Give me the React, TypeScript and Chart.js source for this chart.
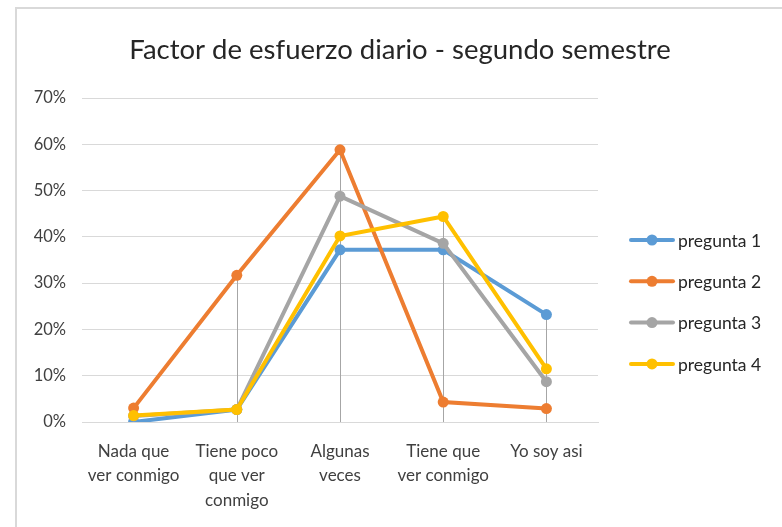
import React, { useEffect, useRef } from "react";
import { Chart, registerables } from "chart.js";

Chart.register(...registerables);

const categories: (string | string[])[] = [
  ["Nada que", "ver conmigo"],
  ["Tiene poco", "que ver", "conmigo"],
  ["Algunas", "veces"],
  ["Tiene que", "ver conmigo"],
  "Yo soy asi",
];
const seriesNames = ["pregunta 1", "pregunta 2", "pregunta 3", "pregunta 4"];
const pregunta1 = [0.0, 0.027, 0.372, 0.372, 0.232];
const pregunta2 = [0.03, 0.317, 0.588, 0.043, 0.029];
const pregunta3 = [0.013, 0.027, 0.488, 0.386, 0.087];
const pregunta4 = [0.014, 0.027, 0.402, 0.444, 0.115];
const seriesColors = ["#5B9BD5", "#ED7D31", "#A5A5A5", "#FFC000"];
const titleText = "Factor de esfuerzo diario - segundo semestre";
const yMax = 0.7;
const yStep = 0.1;

const FONT = "Lato, 'Open Sans', sans-serif";

export default function App() {
  const ref = useRef<HTMLCanvasElement | null>(null);
  useEffect(() => {
    if (!ref.current) return;
    const values = [pregunta1, pregunta2, pregunta3, pregunta4];

    const framePlugin = {
      id: "frame",
      beforeDraw(chart: any) {
        const ctx = chart.ctx;
        ctx.save();
        ctx.fillStyle = "#ffffff";
        ctx.fillRect(0, 0, chart.width, chart.height);
        ctx.strokeStyle = "#d9d9d9";
        ctx.lineWidth = 2;
        ctx.strokeRect(16, 8, chart.width + 20, chart.height + 20);
        ctx.fillStyle = "#262626";
        ctx.font = `27.5px ${FONT}`;
        ctx.textAlign = "center";
        ctx.textBaseline = "alphabetic";
        ctx.fillText(titleText, 400, 59);
        ctx.restore();
      },
    };

    const dropLinePlugin = {
      id: "dropLines",
      beforeDatasetsDraw(chart: any) {
        const ctx = chart.ctx;
        const xs = chart.scales.x;
        const ys = chart.scales.y;
        ctx.save();
        ctx.strokeStyle = "#a6a6a6";
        ctx.lineWidth = 1;
        for (let i = 0; i < categories.length; i++) {
          let m = 0;
          chart.data.datasets.forEach((d: any) => {
            m = Math.max(m, d.data[i]);
          });
          const x = Math.round(xs.getPixelForValue(i)) + 0.5;
          ctx.beginPath();
          ctx.moveTo(x, ys.getPixelForValue(m));
          ctx.lineTo(x, ys.getPixelForValue(0));
          ctx.stroke();
        }
        ctx.restore();
      },
    };

    const legendPlugin = {
      id: "customLegend",
      afterDraw(chart: any) {
        const ctx = chart.ctx;
        ctx.save();
        ctx.font = `17.5px ${FONT}`;
        ctx.textBaseline = "middle";
        ctx.textAlign = "left";
        chart.data.datasets.forEach((d: any, i: number) => {
          const y = 240 + i * 41.3;
          ctx.strokeStyle = d.borderColor;
          ctx.lineWidth = 4;
          ctx.lineCap = "round";
          ctx.beginPath();
          ctx.moveTo(631, y);
          ctx.lineTo(673, y);
          ctx.stroke();
          ctx.fillStyle = d.borderColor;
          ctx.beginPath();
          ctx.arc(652, y, 5.5, 0, Math.PI * 2);
          ctx.fill();
          ctx.fillStyle = "#262626";
          ctx.fillText(d.label, 678, y + 1);
        });
        ctx.restore();
      },
    };

    const chart = new Chart(ref.current, {
      type: "line",
      data: {
        labels: categories as any,
        datasets: values.map((v, i) => ({
          label: seriesNames[i],
          data: v,
          borderColor: seriesColors[i],
          backgroundColor: seriesColors[i],
          borderWidth: 4,
          pointRadius: 5.5,
          pointHoverRadius: 5.5,
          pointBorderWidth: 0,
          tension: 0,
          order: 3 - i,
        })),
      },
      options: {
        animation: false,
        responsive: false,
        maintainAspectRatio: false,
        layout: { padding: { left: 0, top: 98, right: 184, bottom: 0 } },
        plugins: {
          legend: { display: false },
          title: { display: false },
          tooltip: { enabled: false },
        },
        scales: {
          x: {
            offset: true,
            grid: { display: false, drawTicks: false },
            border: { display: true, color: "#d9d9d9", width: 1 },
            ticks: {
              color: "#404040",
              font: { family: FONT, size: 17, lineHeight: 1.45 },
              padding: 17,
              maxRotation: 0,
              autoSkip: false,
            },
            afterFit(scale: any) {
              scale.height = 105;
            },
          },
          y: {
            min: 0,
            max: yMax,
            border: { display: false },
            grid: { color: "#d9d9d9", lineWidth: 1, drawTicks: false },
            ticks: {
              stepSize: yStep,
              color: "#404040",
              font: { family: FONT, size: 16.5 },
              padding: 16,
              callback: (v: any) => `${Math.round(Number(v) * 100)}%`,
            },
            afterFit(scale: any) {
              scale.width = 82;
            },
          },
        },
      },
      plugins: [framePlugin, dropLinePlugin, legendPlugin],
    });
    return () => chart.destroy();
  }, []);

  return (
    <div style={{ position: "fixed", left: 0, top: 0, width: 782, height: 527 }}>
      <canvas ref={ref} width={782} height={527} style={{ display: "block" }} />
    </div>
  );
}
